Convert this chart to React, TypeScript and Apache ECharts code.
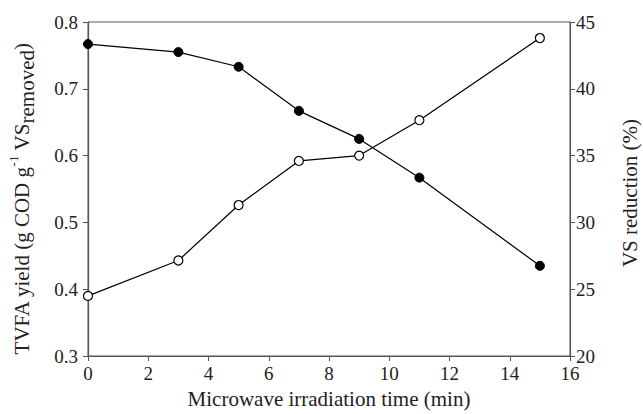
import React, { useEffect, useRef } from "react";
import * as echarts from "echarts";

const timeMin = [0, 3, 5, 7, 9, 11, 15];
const tvfaYield = [0.767, 0.755, 0.733, 0.667, 0.625, 0.567, 0.435];
const vsReduction = [24.5, 27.15, 31.3, 34.6, 35.0, 37.65, 43.8];

const xTitle = "Microwave irradiation time (min)";
const rightTitle = "VS reduction (%)";

const FONT = "'Liberation Serif', 'Times New Roman', serif";

export default function App() {
  const ref = useRef<HTMLDivElement>(null);
  useEffect(() => {
    if (!ref.current) return;
    const chart = echarts.init(ref.current, null, { renderer: "svg" });
    const axisColor = "#555";
    const labelStyle = { fontFamily: FONT, fontSize: 19, color: "#222" };
    chart.setOption({
      animation: false,
      backgroundColor: "#fff",
      grid: {
        left: 88,
        right: 73,
        top: 22,
        bottom: 55,
        show: true,
        borderColor: axisColor,
        borderWidth: 1,
        backgroundColor: "transparent",
      },
      xAxis: {
        type: "value",
        min: 0,
        max: 16,
        interval: 2,
        name: xTitle,
        nameLocation: "middle",
        nameGap: 32,
        nameTextStyle: { fontFamily: FONT, fontSize: 21, color: "#222" },
        axisLine: { show: true, lineStyle: { color: axisColor, width: 1.2 } },
        axisTick: { show: true, inside: false, length: 5, lineStyle: { color: axisColor } },
        axisLabel: { ...labelStyle, margin: 8 },
        splitLine: { show: false },
      },
      yAxis: [
        {
          type: "value",
          min: 0.3,
          max: 0.8,
          interval: 0.1,
          position: "left",
          axisLine: { show: true, lineStyle: { color: axisColor, width: 1.2 } },
          axisTick: { show: true, inside: false, length: 5, lineStyle: { color: axisColor } },
          axisLabel: { ...labelStyle, margin: 10, formatter: (v: number) => v.toFixed(1) },
          splitLine: { show: false },
        },
        {
          type: "value",
          min: 20,
          max: 45,
          interval: 5,
          position: "right",
          axisLine: { show: true, lineStyle: { color: axisColor, width: 1.2 } },
          axisTick: { show: true, inside: false, length: 5, lineStyle: { color: axisColor } },
          axisLabel: { ...labelStyle, margin: 6 },
          splitLine: { show: false },
        },
      ],
      graphic: [
        {
          type: "text",
          x: 22,
          y: 199,
          rotation: Math.PI / 2,
          style: {
            text: "{n|TVFA yield (g COD g}{sup|-1}{n| VS}{sub|removed}{n|)}",
            align: "center",
            verticalAlign: "middle",
            fill: "#222",
            rich: {
              n: { fontFamily: FONT, fontSize: 21, lineHeight: 26, fill: "#222" },
              sup: { fontFamily: FONT, fontSize: 13, lineHeight: 26, verticalAlign: "top", fill: "#222" },
              sub: { fontFamily: FONT, fontSize: 21, lineHeight: 30, verticalAlign: "bottom", fill: "#222" },
            },
          },
        },
        {
          type: "text",
          x: 630,
          y: 193,
          rotation: Math.PI / 2,
          style: {
            text: rightTitle,
            align: "center",
            verticalAlign: "middle",
            fontFamily: FONT,
            fontSize: 21,
            fill: "#222",
          },
        },
      ],
      series: [
        {
          type: "line",
          yAxisIndex: 0,
          data: timeMin.map((t, i) => [t, tvfaYield[i]]),
          symbol: "circle",
          symbolSize: 9,
          lineStyle: { color: "#000", width: 1.2 },
          itemStyle: { color: "#000", borderColor: "#000", borderWidth: 1 },
          z: 3,
        },
        {
          type: "line",
          yAxisIndex: 1,
          data: timeMin.map((t, i) => [t, vsReduction[i]]),
          symbol: "circle",
          symbolSize: 9,
          lineStyle: { color: "#000", width: 1.2 },
          itemStyle: { color: "#fff", borderColor: "#000", borderWidth: 1.2 },
          z: 4,
        },
      ],
    });
    return () => chart.dispose();
  }, []);
  return <div ref={ref} style={{ width: 643, height: 414, position: "absolute", left: 0, top: 0 }} />;
}
